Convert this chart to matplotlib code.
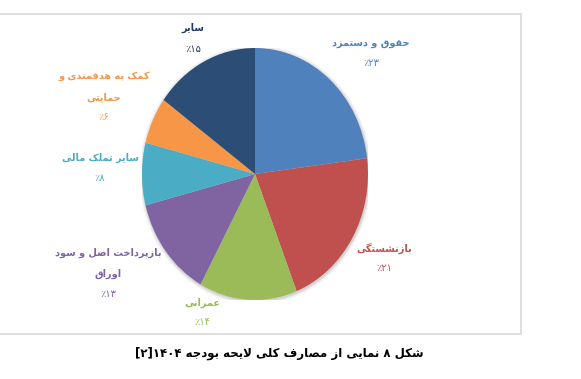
import matplotlib
matplotlib.use('Agg')
import matplotlib.pyplot as plt
from matplotlib.patches import Rectangle, Ellipse

# budget spending shares (percent), clockwise from 12 o'clock
categories = ['حقوق و دستمزد', 'بازنشستگی', 'عمرانی', 'بازپرداخت اصل و سود\nاوراق',
              'سایر تملک مالی', 'کمک به هدفمندی و\nحمایتی', 'سایر']
shares = [23, 21, 14, 13, 8, 6, 15]
colors = ['#4F81BD', '#C0504D', '#9BBB59', '#8064A2', '#4BACC6', '#F79646', '#2C4D75']
label_colors = ['#4F81BD', '#C0504D', '#9BBB59', '#8064A2', '#4BACC6', '#F79646', '#1F3864']
caption = 'شکل ۸ نمایی از مصارف کلی لایحه بودجه ۱۴۰۴[۲]'

# matplotlib has no arabic shaping, so join the letters by hand
FORMS = {
    'ا': ('\uFE8D', '\uFE8E', None, None),
    'ب': ('\uFE8F', '\uFE90', '\uFE91', '\uFE92'),
    'پ': ('\uFB56', '\uFB57', '\uFB58', '\uFB59'),
    'ت': ('\uFE95', '\uFE96', '\uFE97', '\uFE98'),
    'ج': ('\uFE9D', '\uFE9E', '\uFE9F', '\uFEA0'),
    'ح': ('\uFEA1', '\uFEA2', '\uFEA3', '\uFEA4'),
    'خ': ('\uFEA5', '\uFEA6', '\uFEA7', '\uFEA8'),
    'د': ('\uFEA9', '\uFEAA', None, None),
    'ر': ('\uFEAD', '\uFEAE', None, None),
    'ز': ('\uFEAF', '\uFEB0', None, None),
    'س': ('\uFEB1', '\uFEB2', '\uFEB3', '\uFEB4'),
    'ش': ('\uFEB5', '\uFEB6', '\uFEB7', '\uFEB8'),
    'ص': ('\uFEB9', '\uFEBA', '\uFEBB', '\uFEBC'),
    'ع': ('\uFEC9', '\uFECA', '\uFECB', '\uFECC'),
    'ف': ('\uFED1', '\uFED2', '\uFED3', '\uFED4'),
    'ق': ('\uFED5', '\uFED6', '\uFED7', '\uFED8'),
    'ک': ('\uFB8E', '\uFB8F', '\uFB90', '\uFB91'),
    'گ': ('\uFB92', '\uFB93', '\uFB94', '\uFB95'),
    'ل': ('\uFEDD', '\uFEDE', '\uFEDF', '\uFEE0'),
    'م': ('\uFEE1', '\uFEE2', '\uFEE3', '\uFEE4'),
    'ن': ('\uFEE5', '\uFEE6', '\uFEE7', '\uFEE8'),
    'و': ('\uFEED', '\uFEEE', None, None),
    'ه': ('\uFEE9', '\uFEEA', '\uFEEB', '\uFEEC'),
    'ی': ('\uFBFC', '\uFBFD', '\uFBFE', '\uFBFF'),
}
FA_DIGITS = '۰۱۲۳۴۵۶۷۸۹'
MIRROR = {'[': ']', ']': '[', '(': ')', ')': '('}


def joins_next(c):
    return c in FORMS and FORMS[c][2] is not None


def shape_line(text):
    out = []
    i = 0
    while i < len(text):
        c = text[i]
        if c not in FORMS:
            out.append(c)
            i += 1
            continue
        prev_j = i > 0 and joins_next(text[i - 1])
        if c == 'ل' and i + 1 < len(text) and text[i + 1] == 'ا':
            out.append('\uFEFC' if prev_j else '\uFEFB')
            i += 2
            continue
        next_j = joins_next(c) and i + 1 < len(text) and text[i + 1] in FORMS
        iso, fin, ini, med = FORMS[c]
        if prev_j and next_j:
            out.append(med)
        elif prev_j:
            out.append(fin)
        elif next_j:
            out.append(ini)
        else:
            out.append(iso)
        i += 1
    # visual order: reverse, but keep digit runs left-to-right
    vis = ''.join(out)[::-1]
    res, run = '', ''
    for c in vis:
        if c in FA_DIGITS or c.isdigit():
            run += c
        else:
            res += run[::-1] + MIRROR.get(c, c)
            run = ''
    return res + run[::-1]


def rtl(text):
    return '\n'.join(shape_line(line) for line in text.split('\n'))


def fa_num(n):
    return ''.join(FA_DIGITS[int(d)] for d in str(n))


W, H = 581, 379
fig = plt.figure(figsize=(W / 100, H / 100), dpi=100)

# light frame around the chart
fig.patches.append(Rectangle((-2 / W, 1 - 334 / H), 523 / W, 320 / H,
                             transform=fig.transFigure, fill=False,
                             edgecolor='#D9D9D9', linewidth=1.2))

# pie is a bit taller than wide in the source image
cx, cy, rx, ry = 255, 174, 113, 126
ax = fig.add_axes([(cx - rx) / W, 1 - (cy + ry) / H, 2 * rx / W, 2 * ry / H])
# soft shadow under the pie
for k, a in [(1.03, 0.04), (1.018, 0.06), (1.008, 0.08)]:
    ax.add_patch(Ellipse((0.005, -0.008), 2 * k, 2 * k, color='black', alpha=a, lw=0))
ax.pie(shares, colors=colors, startangle=90, counterclock=False,
       wedgeprops={'linewidth': 0})
ax.set_aspect('auto')
ax.set_xlim(-1, 1)
ax.set_ylim(-1, 1)
ax.axis('off')

# label anchor (pixels): name centre, percent centre
label_pos = [(371, 44, 63), (384, 248, 268), (202, 303, 322), (108, 263, 294),
             (100, 158, 178), (104, 87, 117), (193, 28, 49)]

for name, val, col, (x, y1, y2) in zip(categories, shares, label_colors, label_pos):
    fig.text(x / W, 1 - y1 / H, rtl(name), color=col, fontsize=7,
             fontweight='bold', ha='center', va='center', linespacing=2.4)
    fig.text(x / W, 1 - y2 / H, '٪' + fa_num(val), color=col, fontsize=7,
             ha='center', va='center')

fig.text(279 / W, 1 - 353 / H, rtl(caption), fontsize=8.5, fontweight='bold',
         ha='center', va='center', color='black')

fig.savefig('out.png', dpi=100)
